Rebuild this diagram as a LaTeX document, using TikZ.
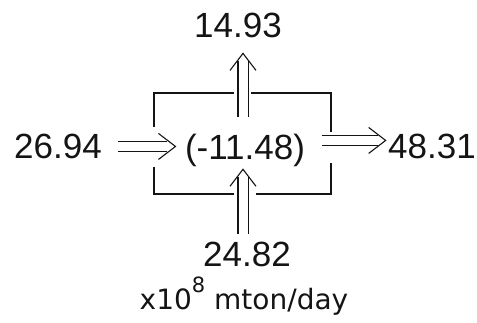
\documentclass[tikz,border=0pt]{standalone}
\usepackage{fontspec}
\setmainfont{Liberation Sans}
\newfontfamily\unitfont{DejaVu Sans}
\usetikzlibrary{
  arrows.meta,
  positioning,
  calc
}
\definecolor{ink}{RGB}{20,20,20}

\begin{document}
\begin{tikzpicture}[x=1pt, y=-1pt, line width=1.1pt, draw=ink,
    val/.style={font=\fontsize{35}{35}\selectfont, text=ink, inner sep=2pt, anchor=base},
    flow/.style={double=white, double distance=9pt, shorten >=8pt},
    chevron/.pic={\draw[ink, line width=1.1pt] (-17,-13) -- (0,0) -- (-17,13);}]
  \useasboundingbox (0,0) rectangle (477,323);
  % box
  \draw (154,127) |- (234,93);
  \draw (251,93) -| (331,132);
  \draw (154,167) |- (234,194);
  \draw (256,194) -| (331,163);
  % values
  \node[val] (ctr) at (245,159.5) {(-11.48)};
  \node[val] (inflow) at (58,158.5) {26.94};
  \node[val] (outflow) at (432,158.5) {48.31};
  \node[val] (up) at (238,37.5) {14.93};
  \node[val] (down) at (247,266.5) {24.82};
  \node[font=\unitfont\fontsize{28}{28}\selectfont, text=ink, anchor=base]
    (unit) at (244,310) {x10\raisebox{0.62em}{\fontsize{21}{21}\selectfont 8} mton/day};
  % arrows
  \coordinate (inA) at ($(inflow.east)+(14,0)$);
  \coordinate (inB) at ($(inflow.east -| ctr.west)+(-7,0)$);
  \coordinate (outA) at ($(ctr.east)+(14,-10)$);
  \coordinate (outB) at ($(ctr.east -| outflow.west)+(0,-10)$);
  \coordinate (upA) at ($(ctr.north)+(-2,-15)$);
  \coordinate (upB) at ($(ctr.north |- up.south)+(-2,13)$);
  \coordinate (downA) at ($(ctr.south |- down.north)+(-2,-6)$);
  \coordinate (downB) at ($(ctr.south)+(-2,0)$);
  \draw[flow] (inA) -- (inB);
  \draw[flow] (outA) -- (outB);
  \draw[flow] (upA) -- (upB);
  \draw[flow] (downA) -- (downB);
  \pic at (inB) {chevron};
  \pic at (outB) {chevron};
  \pic[rotate=90] at (upB) {chevron};
  \pic[rotate=90] at (downB) {chevron};
\end{tikzpicture}
\end{document}
